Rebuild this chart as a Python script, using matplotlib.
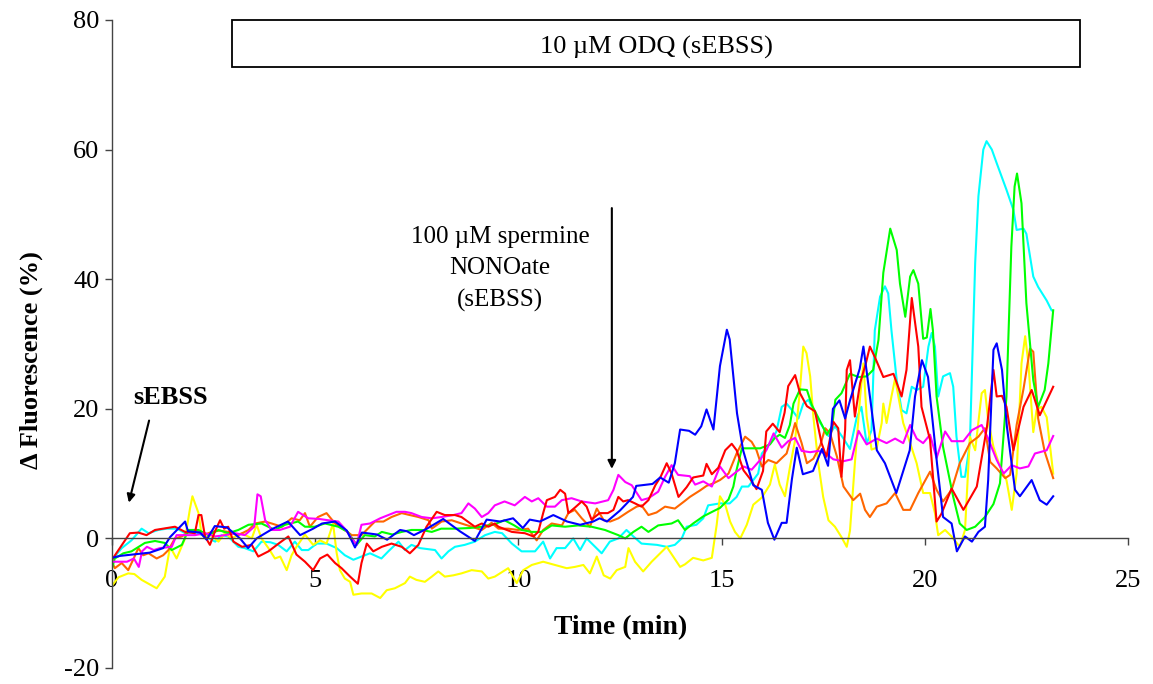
import matplotlib.pyplot as plt
from matplotlib.patches import Rectangle

plt.rcParams['font.family'] = ['Liberation Serif', 'DejaVu Serif']
plt.rcParams['axes.unicode_minus'] = False

# traces: time (min) and delta fluorescence (%)
blue_t = [0, 0.2, 0.93, 1.26, 1.43, 1.8, 1.87, 2.17, 2.33, 2.53, 2.83, 3.15, 3.35, 3.56, 3.96, 4.33, 4.63, 4.95,
          5.17, 5.49, 5.78, 5.98, 6.15, 6.52, 6.77, 7.09, 7.26, 7.43, 7.75, 8.15, 8.56, 8.93, 9.22, 9.55, 9.87, 10.11,
          10.28, 10.53, 10.86, 11.2, 11.52, 11.84, 12.0, 12.18, 12.5, 12.82, 12.9, 13.3, 13.49, 13.7, 13.85, 13.98,
          14.2, 14.35, 14.5, 14.63, 14.8, 14.96, 15.13, 15.2, 15.38, 15.53, 15.78, 15.99, 16.14, 16.3, 16.48, 16.6,
          16.73, 16.85, 17.0, 17.25, 17.47, 17.62, 17.74, 17.9, 18.04, 18.16, 18.4, 18.49, 18.65, 18.82, 19.02, 19.3,
          19.63, 19.76, 19.93, 20.08, 20.3, 20.45, 20.66, 20.79, 20.99, 21.16, 21.32, 21.48, 21.56, 21.69, 21.77, 21.9,
          22.02, 22.22, 22.34, 22.63, 22.83, 23.0, 23.16]
blue_v = [-3.0, -2.7, -2.2, -1.5, 0.2, 2.6, 1.1, 0.9, -0.2, 1.9, 1.7, 0, -1.5, 0, 1.5, 2.6, 0.5, 1.5,
          2.3, 2.6, 1.2, -1.4, 0.9, 0.6, -0.2, 1.3, 1.1, 0.5, 1.5, 3.0, 1.1, -0.4, 2.9, 2.6, 3.1, 1.6,
          2.9, 2.6, 3.6, 2.6, 2.1, 2.6, 3.1, 2.6, 4.3, 6.4, 8.1, 8.4, 9.4, 8.6, 11.6, 16.8,
          16.6, 16.0, 17.3, 19.9, 16.8, 26.6, 32.2, 30.7, 19.3, 13.6, 8.2, 7.5, 2.4, -0.2, 2.4, 2.4,
          9.1, 14.0, 9.9, 10.4, 13.8, 11.2, 20.0, 21.3, 18.5, 21.3, 26.2, 29.6, 21.9, 13.6, 11.6, 7.0,
          13.6, 21.9, 27.5, 24.9, 11.6, 3.3, 2.3, -2.0, 0.3, -0.5, 1.0, 1.8, 9.0, 29.1, 30.1, 26.0,
          17.3, 7.5, 6.5, 9.0, 5.9, 5.2, 6.5]

red_t = [0, 0.44, 0.65, 0.85, 1.06, 1.26, 1.55, 1.8, 2.04, 2.13, 2.2, 2.29, 2.41, 2.53, 2.66, 2.76, 2.86, 2.99,
         3.2, 3.44, 3.6, 3.85, 4.1, 4.34, 4.54, 4.75, 4.95, 5.12, 5.3, 5.49, 5.65, 5.86, 6.05, 6.14, 6.27, 6.43,
         6.64, 6.88, 7.13, 7.33, 7.54, 7.74, 7.99, 8.19, 8.44, 8.6, 8.93, 9.1, 9.26, 9.42, 9.51, 9.84, 10.16,
         10.37, 10.49, 10.61, 10.7, 10.9, 11.03, 11.15, 11.23, 11.4, 11.56, 11.68, 11.8, 12.0, 12.2, 12.34, 12.46,
         12.58, 12.7, 12.87, 13.03, 13.2, 13.37, 13.5, 13.65, 13.77, 13.94, 14.14, 14.3, 14.55, 14.63, 14.76,
         14.92, 15.09, 15.25, 15.37, 15.54, 15.7, 15.86, 16.02, 16.1, 16.26, 16.43, 16.55, 16.64, 16.81, 16.93,
         17.1, 17.3, 17.46, 17.58, 17.75, 17.87, 17.95, 18.04, 18.08, 18.16, 18.28, 18.41, 18.55, 18.65, 18.77,
         18.98, 19.23, 19.43, 19.55, 19.68, 19.84, 19.92, 20.13, 20.29, 20.41, 20.66, 20.95, 21.28, 21.53, 21.69,
         21.77, 21.9, 22.01, 22.18, 22.43, 22.63, 22.83, 23.16]
red_v = [-3.3, 0.8, 0.9, 0.5, 1.3, 1.5, 1.8, 1.0, 0.8, 3.6, 3.6, 0.3, -1.0, 1.0, 2.8, 1.5, 1.8, -0.5,
         -1.3, -1.0, -2.8, -2.0, -0.8, 0.3, -2.5, -3.6, -4.9, -3.1, -2.5, -3.8, -4.6, -5.9, -7.0, -3.8, -0.8, -2.0,
         -1.3, -0.8, -1.3, -2.3, -1.0, 1.8, 4.1, 3.6, 3.6, 3.3, 1.8, 2.3, 1.8, 2.3, 1.8, 1.0, 0.8,
         0.3, 1.0, 3.9, 5.9, 6.4, 7.5, 6.9, 3.9, 4.8, 5.7, 4.9, 2.9, 3.9, 3.9, 4.4, 6.4,
         5.7, 5.9, 5.4, 4.9, 5.9, 8.2, 9.5, 11.6, 10.0, 6.4, 7.9, 9.4, 9.7, 11.5, 9.9,
         10.9, 13.6, 14.6, 13.6, 10.5, 9.2, 7.6, 10.4, 16.5, 17.7, 16.4, 19.4, 23.5, 25.2, 22.4,
         20.4, 19.6, 14.7, 12.6, 18.0, 17.0, 9.5, 16.7, 26.0, 27.5, 18.8, 24.0, 27.0, 29.6, 28.0,
         24.9, 25.4, 21.9, 26.0, 37.1, 29.6, 20.3, 15.2, 2.6, 3.8, 7.7, 4.4, 8.0, 17.2, 26.0,
         21.9, 22.0, 20.3, 13.6, 20.3, 22.9, 19.0, 23.4]

green_t = [0, 0.07, 0.28, 0.48, 0.81, 1.06, 1.3, 1.47, 1.72, 1.88, 2.13, 2.37, 2.62, 2.86, 3.11, 3.36, 3.68, 4.01,
           4.26, 4.58, 4.75, 4.99, 5.24, 5.57, 5.8, 6.02, 6.22, 6.47, 6.64, 6.9, 7.13, 7.37, 7.62, 7.87, 8.1, 8.44,
           8.8, 9.1, 9.42, 9.66, 9.9, 10.08, 10.33, 10.57, 10.82, 11.15, 11.47, 11.8, 12.13, 12.46, 12.63, 12.83,
           13.03, 13.2, 13.44, 13.77, 13.93, 14.1, 14.3, 14.55, 14.8, 14.96, 15.17, 15.29, 15.37, 15.5, 15.7, 15.95,
           16.19, 16.31, 16.43, 16.56, 16.68, 16.77, 16.93, 17.1, 17.22, 17.43, 17.59, 17.72, 17.8, 17.95, 18.16,
           18.37, 18.57, 18.73, 18.86, 18.98, 19.15, 19.31, 19.39, 19.52, 19.64, 19.72, 19.84, 19.96, 20.05, 20.14,
           20.2, 20.29, 20.45, 20.7, 20.86, 21.03, 21.24, 21.48, 21.69, 21.85, 22.01, 22.13, 22.21, 22.27, 22.38,
           22.5, 22.67, 22.79, 22.95, 23.04, 23.16]
green_v = [-4.6, -3.1, -2.3, -2.0, -0.7, -0.4, -0.7, -1.8, -1.0, 1.3, 1.3, 0.5, 1.3, 0.8, 1.3, 2.1, 2.3, 1.3,
           2.1, 2.6, 1.8, 1.8, 2.3, 1.8, 1.0, -1.0, 0.5, 0.3, 1.0, 0.6, 1.0, 1.3, 1.3, 1.0, 1.5, 1.5,
           1.6, 1.8, 2.2, 2.8, 2.0, 1.3, 1.0, 1.0, 2.0, 1.8, 2.0, 1.8, 1.3, 0.5, 0, 1.0,
           1.8, 1.0, 2.0, 2.3, 2.8, 1.3, 2.3, 3.4, 4.2, 4.7, 6.0, 8.0, 10.6, 13.9, 13.9, 13.9,
           14.5, 15.5, 16.0, 15.5, 17.5, 20.8, 23.0, 22.9, 20.6, 18.0, 16.0, 17.3, 21.4, 22.4, 25.4,
           24.9, 25.0, 26.0, 30.6, 41.0, 47.8, 44.5, 39.3, 34.2, 40.4, 41.4, 39.3, 30.8, 31.0, 35.4,
           32.1, 21.9, 14.1, 6.4, 2.3, 1.3, 1.8, 3.3, 5.3, 8.5, 21.9, 45.0, 54.3, 56.3, 51.7,
           36.3, 24.4, 20.3, 22.9, 27.0, 35.2]

cyan_t = [0, 0.24, 0.48, 0.73, 0.9, 1.14, 1.35, 1.6, 1.8, 2.04, 2.29, 2.54, 2.7, 2.86, 3.11, 3.27, 3.48, 3.68,
          3.9, 4.09, 4.3, 4.5, 4.67, 4.83, 5.04, 5.28, 5.53, 5.73, 5.94, 6.14, 6.35, 6.63, 6.8, 7.05, 7.21, 7.37,
          7.58, 7.95, 8.11, 8.28, 8.44, 8.68, 8.93, 9.18, 9.42, 9.6, 9.84, 10.08, 10.41, 10.61, 10.78, 10.94,
          11.15, 11.35, 11.52, 11.68, 11.84, 12.05, 12.25, 12.46, 12.66, 12.83, 13.03, 13.41, 13.65, 13.85, 14.02,
          14.14, 14.38, 14.55, 14.67, 14.96, 15.2, 15.37, 15.5, 15.66, 15.78, 15.9, 15.99, 16.15, 16.35, 16.48,
          16.6, 16.77, 16.89, 17.01, 17.14, 17.26, 17.43, 17.63, 17.79, 17.99, 18.16, 18.32, 18.44, 18.57, 18.69,
          18.77, 18.9, 19.02, 19.1, 19.18, 19.31, 19.43, 19.55, 19.68, 19.8, 19.96, 20.09, 20.17, 20.25, 20.33,
          20.45, 20.62, 20.7, 20.78, 20.9, 20.99, 21.11, 21.24, 21.32, 21.44, 21.52, 21.65, 21.77, 22.01, 22.18,
          22.26, 22.43, 22.5, 22.67, 22.79, 23.0, 23.12]
cyan_v = [-3.3, -1.5, -0.3, 1.5, 0.8, 1.3, 1.5, 1.5, 0.8, 1.0, 0.3, -0.5, 0.5, 0.3, -1.3, -1.5, -2.0, -0.5,
          -0.6, -1.0, -2.0, -0.5, -1.8, -1.8, -0.8, -0.8, -1.5, -2.6, -3.3, -2.8, -2.3, -3.1, -2.0, -0.5, -1.8, -1.0,
          -1.5, -1.8, -3.1, -2.0, -1.3, -1.0, -0.5, 0.5, 1.0, 0.8, -0.8, -2.0, -2.0, -0.5, -3.1, -1.5,
          -1.5, 0, -1.8, 0, -1.0, -2.3, -0.5, 0, 1.3, 0.3, -0.8, -1.0, -1.3, -1.0, 0,
          1.8, 2.1, 3.1, 5.1, 5.4, 5.4, 6.4, 8.0, 8.0, 9.0, 10.0, 13.1, 14.3, 16.5, 20.3,
          20.8, 19.5, 18.5, 20.8, 21.4, 19.8, 17.8, 15.8, 17.3, 15.5, 13.8, 18.5, 20.3, 14.6, 16.7,
          32.1, 37.3, 38.9, 37.8, 32.1, 24.4, 19.8, 19.3, 23.4, 22.9, 23.4, 29.6, 31.7, 29.6, 21.9,
          25.0, 25.5, 23.4, 15.7, 9.5, 9.5, 14.7, 42.5, 52.8, 60.0, 61.3, 60.0, 57.9, 53.8, 50.7,
          47.6, 47.8, 47.0, 40.4, 38.8, 36.7, 35.2]

magenta_t = [0, 0.37, 0.54, 0.66, 0.74, 0.86, 1.03, 1.18, 1.47, 1.59, 1.8, 2.04, 2.29, 2.54, 2.78, 3.03, 3.27,
             3.5, 3.58, 3.66, 3.77, 3.93, 4.13, 4.38, 4.58, 4.83, 5.1, 5.32, 5.57, 5.73, 5.9, 6.02, 6.14, 6.35,
             6.6, 6.8, 7.0, 7.21, 7.37, 7.62, 7.87, 8.11, 8.4, 8.6, 8.77, 8.93, 9.1, 9.26, 9.42, 9.66, 9.91,
             10.16, 10.33, 10.49, 10.7, 10.9, 11.07, 11.31, 11.56, 11.89, 12.21, 12.34, 12.46, 12.63, 12.79,
             13.03, 13.2, 13.44, 13.61, 13.77, 13.93, 14.22, 14.35, 14.55, 14.76, 14.96, 15.17, 15.37, 15.54,
             15.74, 15.95, 16.11, 16.28, 16.48, 16.64, 16.81, 16.97, 17.18, 17.38, 17.59, 17.75, 17.99, 18.2,
             18.37, 18.57, 18.82, 19.06, 19.27, 19.47, 19.64, 19.8, 19.96, 20.13, 20.29, 20.5, 20.66, 20.95,
             21.16, 21.4, 21.56, 21.77, 21.94, 22.14, 22.34, 22.55, 22.71, 22.83, 23.0, 23.16]
magenta_v = [-3.6, -3.6, -3.1, -4.4, -2.0, -1.3, -1.8, -1.5, -1.3, 0.5, 0.5, 0.5, 0.8, 0.3, 0.5, 0.8, 0.5,
             1.8, 6.8, 6.5, 2.8, 1.3, 1.3, 1.8, 4.1, 3.1, 3.0, 2.8, 2.6, 1.5, 0, -1.0, 2.1, 2.3,
             3.1, 3.6, 4.1, 4.1, 3.9, 3.3, 3.1, 3.3, 3.6, 3.9, 5.4, 4.6, 3.3, 3.9, 5.1, 5.7, 5.1,
             6.4, 5.7, 6.2, 4.9, 4.9, 5.9, 6.2, 5.7, 5.4, 5.9, 7.5, 9.8, 8.7, 8.2,
             5.9, 6.2, 7.2, 9.5, 11.3, 9.8, 9.6, 8.3, 8.8, 8.0, 11.1, 9.3, 10.3, 11.1,
             10.6, 12.1, 13.7, 16.2, 14.0, 15.0, 15.5, 13.5, 13.3, 13.5, 13.0, 12.2, 11.9, 12.2,
             16.6, 14.5, 15.4, 14.7, 15.4, 14.7, 17.5, 15.4, 14.7, 16.0, 12.4, 16.5, 15.0, 15.0,
             16.7, 17.5, 15.4, 12.1, 10.0, 11.3, 10.8, 11.1, 13.1, 13.3, 13.6, 15.8]

orange_t = [0, 0.07, 0.24, 0.4, 0.52, 0.65, 0.77, 0.9, 1.1, 1.26, 1.39, 1.55, 1.72, 1.88, 2.08, 2.25, 2.45, 2.65,
            2.86, 3.11, 3.36, 3.52, 3.77, 3.93, 4.18, 4.42, 4.62, 4.75, 4.87, 5.07, 5.28, 5.49, 5.73, 5.9, 6.14,
            6.39, 6.47, 6.68, 6.88, 7.13, 7.33, 7.54, 7.79, 7.87, 8.11, 8.36, 8.6, 8.85, 9.1, 9.34, 9.51, 9.75,
            9.99, 10.24, 10.45, 10.61, 10.82, 11.07, 11.23, 11.39, 11.56, 11.76, 11.93, 12.1, 12.26, 12.46, 12.7,
            12.91, 13.03, 13.2, 13.4, 13.61, 13.85, 14.1, 14.22, 14.47, 14.63, 14.8, 14.96, 15.17, 15.37, 15.58,
            15.74, 15.86, 15.99, 16.15, 16.35, 16.6, 16.72, 16.81, 16.97, 17.1, 17.26, 17.43, 17.55, 17.67, 17.84,
            18.0, 18.24, 18.41, 18.53, 18.65, 18.82, 19.06, 19.27, 19.47, 19.64, 19.84, 20.13, 20.29, 20.45, 20.66,
            20.86, 21.11, 21.32, 21.48, 21.61, 21.77, 21.98, 22.1, 22.26, 22.43, 22.59, 22.67, 22.79, 22.95, 23.16]
orange_v = [-3.6, -4.6, -3.8, -4.9, -3.3, -1.5, -2.6, -2.3, -3.1, -2.6, -1.8, 0, 0.3, 1.0, 1.3, 0.5, 1.0, 1.2,
            1.0, 0.5, 1.3, 2.3, 2.6, 2.3, 1.8, 3.1, 2.8, 3.9, 1.8, 3.3, 3.9, 2.3, 1.3, 0.5, 0.5,
            2.1, 2.6, 2.6, 3.3, 3.9, 3.6, 3.3, 2.8, 1.5, 2.6, 2.8, 2.3, 1.8, 1.3, 2.4, 1.5, 1.5,
            1.3, 1.5, -0.3, 1.3, 2.3, 2.0, 3.9, 4.4, 3.1, 1.8, 4.6, 2.8, 2.6, 3.1, 4.1,
            4.9, 5.1, 3.6, 4.0, 4.9, 4.6, 5.8, 6.4, 7.4, 8.1, 8.5, 9.0, 10.0, 13.1, 15.7,
            14.9, 13.6, 11.1, 12.1, 11.6, 13.1, 15.7, 17.8, 14.7, 11.6, 12.3, 14.4, 17.0, 16.2, 12.6,
            8.0, 5.9, 6.9, 4.4, 3.3, 4.9, 5.4, 7.0, 4.4, 4.4, 7.0, 10.3, 7.5, 5.7, 7.5,
            11.6, 14.7, 15.7, 17.0, 11.8, 10.8, 9.3, 9.8, 17.5, 23.1, 29.3, 28.8, 18.5, 13.4, 9.3]

yellow_t = [0, 0.16, 0.4, 0.55, 0.73, 1.1, 1.3, 1.43, 1.59, 1.8, 1.92, 1.98, 2.13, 2.2, 2.29, 2.45, 2.62, 2.78,
            2.94, 3.19, 3.44, 3.56, 3.68, 3.85, 4.01, 4.14, 4.3, 4.42, 4.54, 4.75, 4.95, 5.12, 5.28, 5.44, 5.53,
            5.61, 5.73, 5.86, 5.94, 6.14, 6.39, 6.6, 6.76, 6.96, 7.21, 7.33, 7.49, 7.7, 7.87, 8.03, 8.19, 8.4,
            8.6, 8.85, 9.1, 9.26, 9.42, 9.75, 9.96, 10.12, 10.33, 10.61, 10.9, 11.19, 11.39, 11.6, 11.76, 11.93,
            12.1, 12.26, 12.42, 12.63, 12.71, 12.87, 13.07, 13.28, 13.44, 13.65, 13.81, 13.98, 14.1, 14.3, 14.55,
            14.76, 14.88, 14.96, 15.09, 15.21, 15.33, 15.46, 15.62, 15.78, 15.99, 16.19, 16.31, 16.43, 16.56,
            16.68, 16.81, 16.93, 17.01, 17.09, 17.18, 17.26, 17.38, 17.5, 17.63, 17.79, 17.95, 18.08, 18.16,
            18.28, 18.41, 18.49, 18.57, 18.69, 18.82, 18.94, 18.98, 19.06, 19.18, 19.27, 19.35, 19.47, 19.64,
            19.8, 19.96, 20.13, 20.25, 20.33, 20.5, 20.66, 20.86, 20.99, 21.11, 21.24, 21.4, 21.48, 21.56, 21.69,
            21.85, 22.01, 22.14, 22.26, 22.38, 22.47, 22.55, 22.67, 22.75, 22.87, 23.0, 23.16]
yellow_v = [-7.3, -6.0, -5.4, -5.5, -6.4, -7.7, -5.9, -1.3, -3.1, 0, 4.6, 6.5, 3.9, 0.8, 0, 0.5, -0.5, 0.8,
            0, 0.8, 0, 2.1, 0, -1.5, -3.1, -2.8, -4.9, -2.6, -1.3, 0.6, -1.0, -0.3, -0.8, 2.3, -2.3,
            -4.9, -6.2, -6.7, -8.7, -8.5, -8.5, -9.2, -8.0, -7.7, -6.9, -5.9, -6.4, -6.7, -5.9, -5.1, -5.9, -5.7,
            -5.4, -4.9, -5.1, -6.2, -5.9, -4.6, -6.9, -4.9, -4.1, -3.6, -4.1, -4.6, -4.4, -4.1, -5.4, -2.8,
            -5.7, -6.2, -4.9, -4.4, -1.5, -3.6, -5.1, -3.6, -2.6, -1.3, -2.8, -4.4, -4.0, -3.0, -3.4,
            -3.0, 2.1, 6.5, 5.2, 2.6, 1.0, 0, 2.1, 5.2, 6.3, 8.3, 11.4, 8.3, 6.5,
            10.9, 15.2, 23.0, 29.6, 28.6, 25.0, 18.7, 11.6, 6.4, 2.8, 1.8, 0.2, -1.3, 1.2,
            11.6, 21.9, 27.0, 18.8, 13.7, 14.0, 17.8, 20.8, 17.8, 21.9, 24.7, 21.9, 17.8, 14.7,
            11.6, 7.0, 7.0, 3.9, 0.5, 1.3, 0.3, -1.3, 1.3, 15.7, 13.6, 22.4, 22.9, 18.2, 14.1,
            11.1, 9.0, 4.4, 10.0, 27.0, 31.2, 27.0, 16.4, 19.8, 20.3, 18.7, 10.0]

x_ticks = [0, 5, 10, 15, 20, 25]
y_ticks = [-20, 0, 20, 40, 60, 80]

fig = plt.figure(figsize=(11.53, 6.84), dpi=100)
ax = fig.add_axes([0.0971, 0.0234, 0.8812, 0.9474])

series = [
    (cyan_t, cyan_v, '#00FFFF'),
    (yellow_t, yellow_v, '#FFFF00'),
    (orange_t, orange_v, '#FF6600'),
    (green_t, green_v, '#00FF00'),
    (magenta_t, magenta_v, '#FF00FF'),
    (red_t, red_v, '#FF0000'),
    (blue_t, blue_v, '#0000FF'),
]
for t, v, c in series:
    ax.plot(t, v, color=c, lw=1.5, solid_joinstyle='round')

ax.set_xlim(0, 25)
ax.set_ylim(-20, 80)
ax.set_xticks(x_ticks)
ax.set_yticks(y_ticks)
ax.spines['top'].set_visible(False)
ax.spines['right'].set_visible(False)
ax.spines['bottom'].set_position(('data', 0))
for s in ('left', 'bottom'):
    ax.spines[s].set_color('#444444')
    ax.spines[s].set_linewidth(1.0)
ax.tick_params(axis='both', direction='out', length=5, width=1.0, color='#444444', labelsize=19)
ax.tick_params(axis='x', pad=18)
ax.tick_params(axis='y', pad=4)

fig.text(0.538, 0.082, 'Time (min)', ha='center', va='center', fontsize=20, fontweight='bold')
fig.text(0.027, 0.474, 'Δ Fluorescence (%)', ha='center', va='center', rotation=90,
         fontsize=19, fontweight='bold')

# treatment bar across the top
ax.add_patch(Rectangle((2.95, 72.7), 20.87, 7.3, fill=False, edgecolor='black', lw=1.3, clip_on=False))
ax.text(13.39, 75.7, '10 µM ODQ (sEBSS)', ha='center', va='center', fontsize=19)

ax.annotate('', xy=(0.4, 5.1), xytext=(0.93, 18.6),
            arrowprops=dict(arrowstyle='-|>', color='black', lw=1.5, mutation_scale=12))
ax.text(1.45, 21.8, 'sEBSS', ha='center', va='center', fontsize=19, fontweight='bold')

ax.annotate('', xy=(12.3, 10.3), xytext=(12.3, 51.4),
            arrowprops=dict(arrowstyle='-|>', color='black', lw=1.5, mutation_scale=12))
ax.text(9.55, 41.6, '100 µM spermine\nNONOate\n(sEBSS)', ha='center', va='center',
        fontsize=18, linespacing=1.55)

fig.savefig('out.png', dpi=100)
